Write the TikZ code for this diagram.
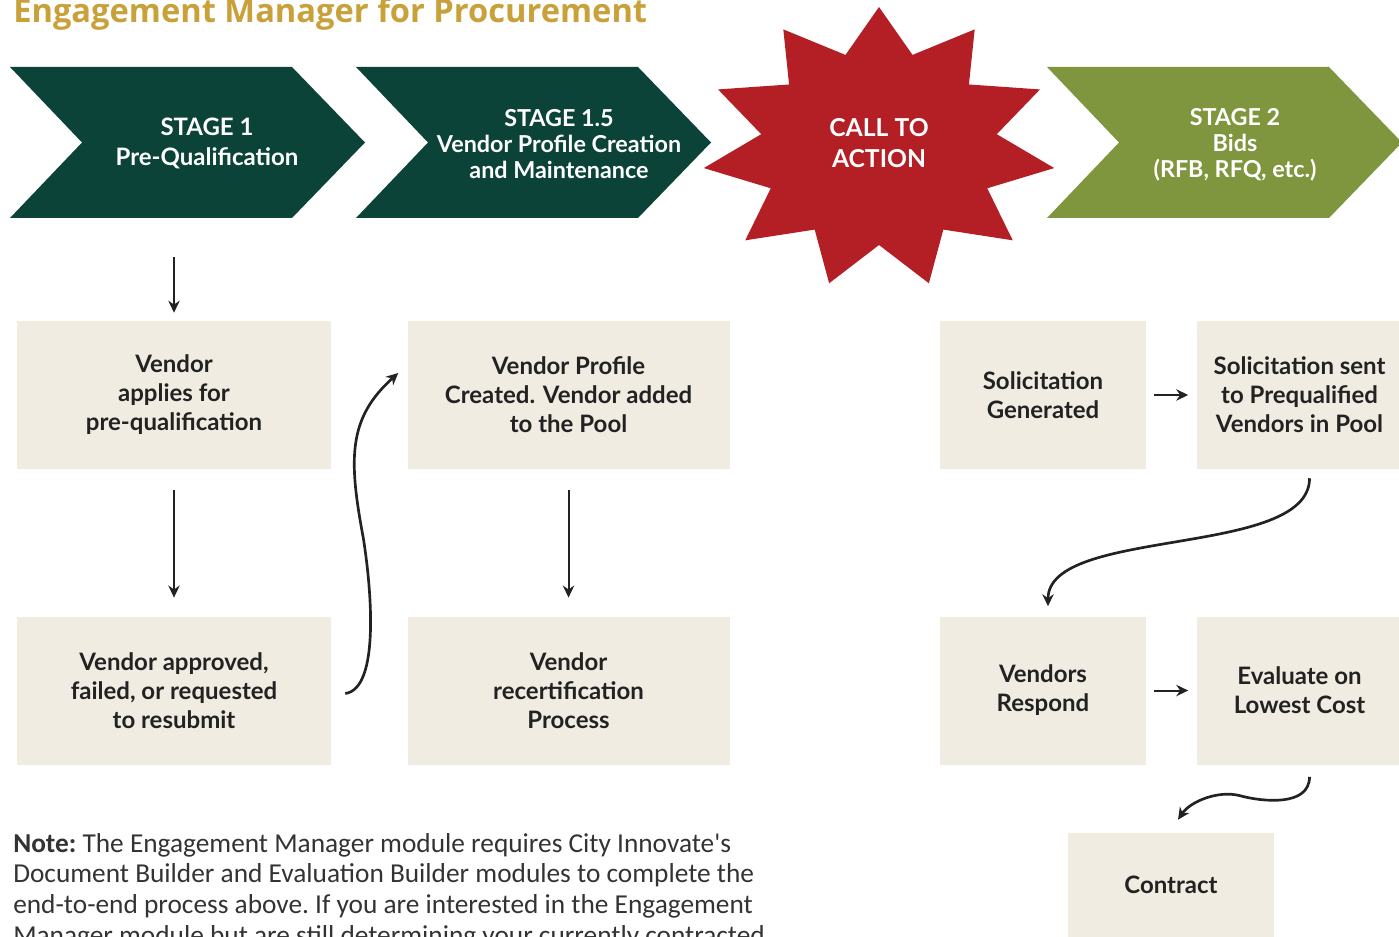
\documentclass[tikz,border=0pt]{standalone}
\usepackage{fontspec}
\setmainfont{Lato}
\newfontfamily\notefont{Carlito}
\newfontfamily\titlefont{Open Sans}
\usetikzlibrary{positioning, arrows.meta, calc}

\definecolor{dkgreen}{RGB}{11,67,57}
\definecolor{olive}{RGB}{127,150,62}
\definecolor{ctared}{RGB}{179,31,37}
\definecolor{beige}{RGB}{240,236,226}
\definecolor{gold}{RGB}{201,161,59}
\definecolor{ink}{RGB}{34,34,34}
\definecolor{notegray}{RGB}{51,51,51}

\begin{document}
\begin{tikzpicture}[
        x=0.75pt, y=-0.75pt, % one unit = one pixel of the layout, y grows down
        % --- STYLES ---
        % 1. Process boxes: flat beige
        box/.style={
                fill=beige,
                text=ink,
                align=center,
                inner sep=0pt,
                minimum width=235.5pt,
                minimum height=111pt,
                font={\fontsize{18}{21.75}\selectfont\bfseries}
            },
        widebox/.style={box, minimum width=241.5pt},
        slimbox/.style={box, minimum width=154.5pt},
        % 2. Text on the stage banners
        banner/.style={
                text=white,
                align=center,
                inner sep=0pt,
                font={\fontsize{18}{22.5}\selectfont\bfseries}
            },
        tightbanner/.style={banner, font={\fontsize{17.5}{19.5}\selectfont\bfseries}},
        % 3. Connectors
        arr/.style={
                -{Stealth[length=9pt, width=8.5pt]},
                line width=1.5pt,
                draw=ink
            },
        curvy/.style={arr, line width=2pt}
    ]

    \useasboundingbox (0,0) rectangle (1399,937);
    \clip (0,0) rectangle (1399,937);

    % 1. Title
    \node[anchor=base west, inner sep=0pt, text=gold,
        font={\titlefont\fontsize{24.5}{30}\selectfont\bfseries}] (title) at (13,23)
    {Engagement Manager for Procurement};

    % 2. Stage banners (chevrons)
    \foreach \x/\col in {10/dkgreen, 356/dkgreen, 1047/olive}
    \fill[\col] (\x,67) -- ++(282,0) -- ++(73,75.5) -- ++(-73,75.5)
    -- ++(-282,0) -- ++(72,-75.5) -- cycle;

    \node[banner] (stage1) at (207,143) {STAGE 1\\Pre-Qualification};
    \node[tightbanner] (stage15) at (559,144) {STAGE 1.5\\Vendor Profile Creation\\and Maintenance};
    \node[tightbanner] (stage2) at (1235,145) {STAGE 2\\Bids\\(RFB, RFQ, etc.)};

    % 3. Call to action burst
    \fill[ctared, shift={(879,148)}] (270:177 and 141)
    \foreach \k in {1,...,11} {
            -- (270+\k*32.7273-16.3636:119 and 97) -- (270+\k*32.7273:177 and 141)
        } -- cycle;
    \node[banner, font={\fontsize{18.5}{23}\selectfont\bfseries}] (cta) at (879,143) {CALL TO\\ACTION};

    % 4. Process boxes
    \node[box] (prequal) at (174,395) {Vendor\\applies for\\pre-qualification};
    \node[box, below=110.25pt of prequal] (result) {Vendor approved,\\failed, or requested\\to resubmit};
    \node[widebox, right=57pt of prequal] (profile) {Vendor Profile\\Created. Vendor added\\to the Pool};
    \node[widebox, below=110.25pt of profile] (recert) {Vendor\\recertification\\Process};

    \node[slimbox] (solgen) at (1043,395) {Solicitation\\Generated};
    \node[slimbox, right=37.5pt of solgen] (solsent) {Solicitation sent\\to Prequalified\\Vendors in Pool};
    \node[slimbox, below=110.25pt of solgen] (respond) {Vendors\\Respond};
    \node[slimbox, right=37.5pt of respond] (evaluate) {Evaluate on\\Lowest Cost};
    \node[slimbox, minimum height=78pt] (contract) at (1171,885) {Contract};

    % 5. Straight connectors
    \coordinate (s1foot) at (174,257);
    \draw[arr, shorten >=6pt] (s1foot) -- (prequal);
    \draw[arr, shorten <=15.75pt, shorten >=14pt] (prequal) -- (result);
    \draw[arr, shorten <=15.75pt, shorten >=14pt] (profile) -- (recert);
    \draw[arr, shorten <=6pt, shorten >=6pt] (solgen) -- (solsent);
    \draw[arr, shorten <=6pt, shorten >=6pt] (respond) -- (evaluate);

    % 6. Curved connectors
    \draw[curvy] ($(result.east)+(14,3)$)
    .. controls +(35,-5) and +(8,50) .. ($(result.east)!0.5!(profile.west)+(-6,-5)$)
    .. controls +(-15,-80) and +(-50,45) .. ($(profile.west)+(-9,-22)$);

    \draw[curvy] ($(solsent.south)+(10,9)$)
    .. controls +(0,80) and +(0,-80) .. ($(respond.north)+(5,-10)$);

    \draw[curvy] ($(evaluate.south)+(10,12)$)
    .. controls +(0,30) and +(22,6) .. ($(evaluate.south)!0.5!(contract.north)+(5,-3)$)
    .. controls +(-22,-6) and +(12,-18) .. ($(contract.north)+(7,-13)$);

    % 7. Note (anchored on the baseline of its last line)
    \node[anchor=base west, align=left, inner sep=0pt, text=notegray,
        font={\notefont\fontsize{20.5}{22.9}\selectfont\frenchspacing}] (note) at (13,944)
    {\textbf{Note:} The Engagement Manager module requires City Innovate's\\
        Document Builder and Evaluation Builder modules to complete the\\
        end-to-end process above. If you are interested in the Engagement\\
        Manager module but are still determining your currently contracted};

\end{tikzpicture}
\end{document}
